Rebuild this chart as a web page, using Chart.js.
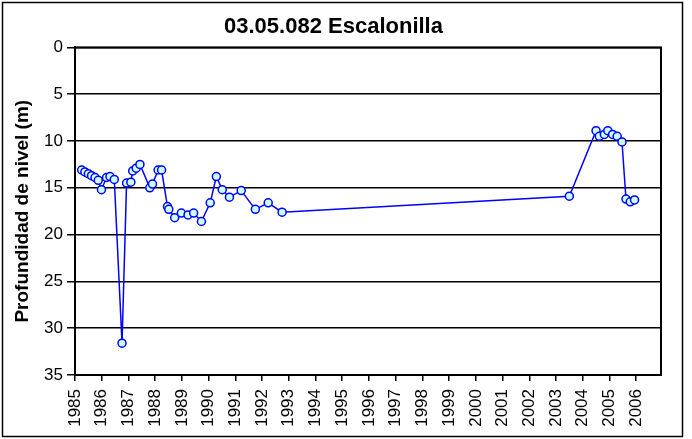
<!DOCTYPE html>
<html>
<head>
<meta charset="utf-8">
<title>03.05.082 Escalonilla</title>
<script src="https://cdn.jsdelivr.net/npm/chart.js@4/dist/chart.umd.min.js"></script>
<style>
  body { margin: 0; background: #fff; }
  #nivel { display: block; }
</style>
</head>
<body>
<canvas id="nivel" width="692" height="439"></canvas>
<script>
const chartTitle = '03.05.082 Escalonilla';
const yTitle = 'Profundidad de nivel (m)';

/* measurement dates as decimal years */
const fechas = [
  1985.25, 1985.37, 1985.50, 1985.62, 1985.75, 1985.87, 1985.99, 1986.18, 1986.31, 1986.47,
  1986.76, 1986.93, 1987.09, 1987.16, 1987.29, 1987.43, 1987.80, 1987.90, 1988.11, 1988.24,
  1988.46, 1988.51, 1988.73, 1988.98, 1989.23, 1989.44, 1989.73, 1990.06, 1990.29, 1990.51,
  1990.78, 1991.22, 1991.75, 1992.23, 1992.75, 2003.50, 2004.50, 2004.62, 2004.81, 2004.94,
  2005.12, 2005.29, 2005.47, 2005.62, 2005.78, 2005.94
];

/* water level depth (m) */
const profundidad = [
  13.1, 13.3, 13.5, 13.7, 13.9, 14.2, 15.2, 13.9, 13.8, 14.1,
  31.6, 14.5, 14.4, 13.2, 12.9, 12.5, 15.0, 14.6, 13.1, 13.1,
  17.0, 17.3, 18.2, 17.7, 17.9, 17.7, 18.6, 16.6, 13.8, 15.2,
  16.0, 15.3, 17.3, 16.6, 17.6, 15.9, 8.9, 9.5, 9.3, 8.9,
  9.3, 9.5, 10.1, 16.2, 16.5, 16.3
];

const yearTicks = [];
for (let y = 1985; y <= 2006; y++) yearTicks.push(y);

const font = 'Liberation Sans, Arial, sans-serif';

/* plot frame and outer chart border */
const frames = {
  id: 'frames',
  afterDraw(chart) {
    const { ctx, chartArea: a } = chart;
    ctx.save();
    ctx.strokeStyle = '#000';
    ctx.lineWidth = 2;
    ctx.strokeRect(a.left, a.top, a.right - a.left, a.bottom - a.top);
    ctx.lineWidth = 1.5;
    ctx.strokeRect(2.5, 2.5, 680, 434);
    ctx.restore();
  }
};

new Chart(document.getElementById('nivel'), {
  type: 'scatter',
  data: {
    datasets: [{
      data: fechas.map((f, i) => ({ x: f, y: profundidad[i] })),
      showLine: true,
      borderColor: '#0000ff',
      borderWidth: 1.5,
      pointRadius: 4,
      pointBorderWidth: 1.5,
      pointBackgroundColor: '#ccffff',
      pointBorderColor: '#0000ff'
    }]
  },
  options: {
    responsive: false,
    animation: false,
    layout: { padding: { top: 4, left: 6, right: 31, bottom: 4 } },
    plugins: {
      legend: { display: false },
      tooltip: { enabled: false },
      title: {
        display: true,
        text: chartTitle,
        color: '#000',
        font: { family: font, size: 22, weight: 'bold' },
        padding: { top: 10, bottom: 7 }
      }
    },
    scales: {
      x: {
        type: 'linear',
        min: 1985,
        max: 2006.93,
        afterFit: s => { s.height = 60; },
        afterBuildTicks: s => { s.ticks = yearTicks.map(v => ({ value: v })); },
        border: { color: '#000', width: 2 },
        grid: { drawOnChartArea: false, color: '#000', tickLength: 6, lineWidth: 1.5 },
        ticks: {
          color: '#000',
          font: { family: font, size: 17 },
          minRotation: 90,
          maxRotation: 90,
          padding: 8,
          autoSkip: false,
          callback: v => String(v)
        }
      },
      y: {
        reverse: true,
        min: 0,
        max: 35,
        afterFit: s => { s.width = 69; },
        border: { color: '#000', width: 2 },
        grid: { color: '#000', lineWidth: 1.5, tickLength: 8 },
        ticks: {
          stepSize: 5,
          color: '#000',
          font: { family: font, size: 17 },
          padding: 4
        },
        title: {
          display: true,
          text: yTitle,
          color: '#000',
          font: { family: font, size: 19, weight: 'bold' },
          padding: { top: 5, bottom: 0 }
        }
      }
    }
  },
  plugins: [frames]
});
</script>
</body>
</html>
